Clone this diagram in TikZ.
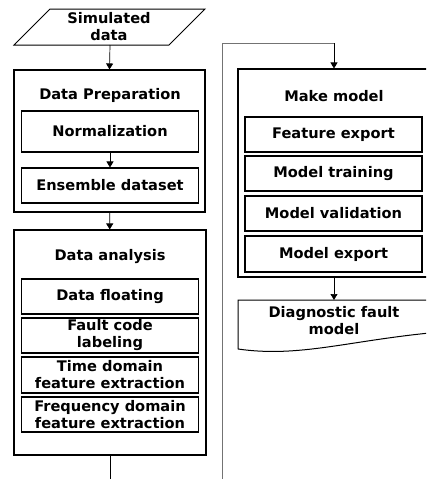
\documentclass[tikz,border=0pt]{standalone}
\usepackage{fontspec}
\setmainfont{DejaVu Sans}
\usetikzlibrary{arrows.meta}
\begin{document}
\begin{tikzpicture}[x=1pt,y=-1pt,
    every node/.style={font=\fontsize{14.6}{17}\selectfont\bfseries},
    outerbox/.style={draw,line width=1.1pt,inner sep=0pt},
    innerbox/.style={draw,line width=1.1pt,minimum width=177pt,align=center,inner sep=0pt},
    titletxt/.style={inner sep=0pt},
    flowarrow/.style={line width=0.7pt,-{Triangle[length=6pt,width=7pt]}},
    loopline/.style={line width=0.9pt,draw=black!55}]
    \useasboundingbox (0,0) rectangle (426,479);
    \clip (0,0) rectangle (426,479);

    % Drawing input Simulated data
    \draw [line width=1pt] (14,45) -- (50,9) -- (205,9) -- (169,45) -- cycle;%
    \node [titletxt,align=center] (sim) at (109,27) {Simulated\\data};%
    \coordinate (simbot) at (110,45);%

    % Drawing block Data Preparation
    \node [outerbox,minimum width=191pt,minimum height=142pt] (prep) at (109.5,141) {};%
    \node [titletxt] (preptitle) at (110,95) {Data Preparation};%
    \node [innerbox,minimum height=41pt] (norm) at (110,131.5) {Normalization};%
    \node [innerbox,minimum height=35pt] (ens) at (110,185.5) {Ensemble dataset};%

    % Drawing block Data analysis
    \node [outerbox,minimum width=192pt,minimum height=225pt] (ana) at (110,342.5) {};%
    \node [titletxt] (anatitle) at (110,257) {Data analysis};%
    \node [innerbox,minimum height=35pt] (flo) at (110,296.5) {Data floating};%
    \node [innerbox,minimum height=35pt] (fcl) at (110,335.5) {Fault code\\labeling};%
    \node [innerbox,minimum height=36pt] (tdf) at (110,375) {Time domain\\feature extraction};%
    \node [innerbox,minimum height=35pt] (fdf) at (110,414.5) {Frequency domain\\feature extraction};%

    % Drawing block Make model
    \node [outerbox,minimum width=192pt,minimum height=208pt] (mk) at (334,173) {};%
    \node [titletxt] (mktitle) at (334,96) {Make model};%
    \node [innerbox,minimum height=35pt] (fex) at (333.5,134.5) {Feature export};%
    \node [innerbox,minimum height=35pt] (mtr) at (333.5,173.5) {Model training};%
    \node [innerbox,minimum height=35pt] (mva) at (333.5,213.5) {Model validation};%
    \node [innerbox,minimum height=36pt] (mex) at (333.5,254) {Model export};%

    % Drawing output Diagnostic fault model
    \draw [line width=1pt] (238,349) -- (238,300) -- (440,300) -- (440,332)
        .. controls (350,340) and (300,358) .. (238,349);%
    \node [titletxt,align=center] (diag) at (334,321) {Diagnostic fault\\model};%
    \coordinate (diagtop) at (334,300);%

    % Drawing connectors
    \coordinate (anaout) at (110,490);%
    \coordinate (loopin) at (222,490);%
    \coordinate (turn) at (334,43);%
    \draw [flowarrow] (simbot) -- (prep.north);%
    \draw [flowarrow] (norm) -- (ens);%
    \draw [flowarrow] (prep) -- (ana);%
    \draw [line width=0.7pt] (ana.south) -- (anaout);%
    \draw [loopline] (loopin) |- (turn);%
    \draw [flowarrow] (turn) -- (mk.north);%
    \draw [flowarrow] (mk.south) -- (diagtop);%
\end{tikzpicture}
\end{document}
